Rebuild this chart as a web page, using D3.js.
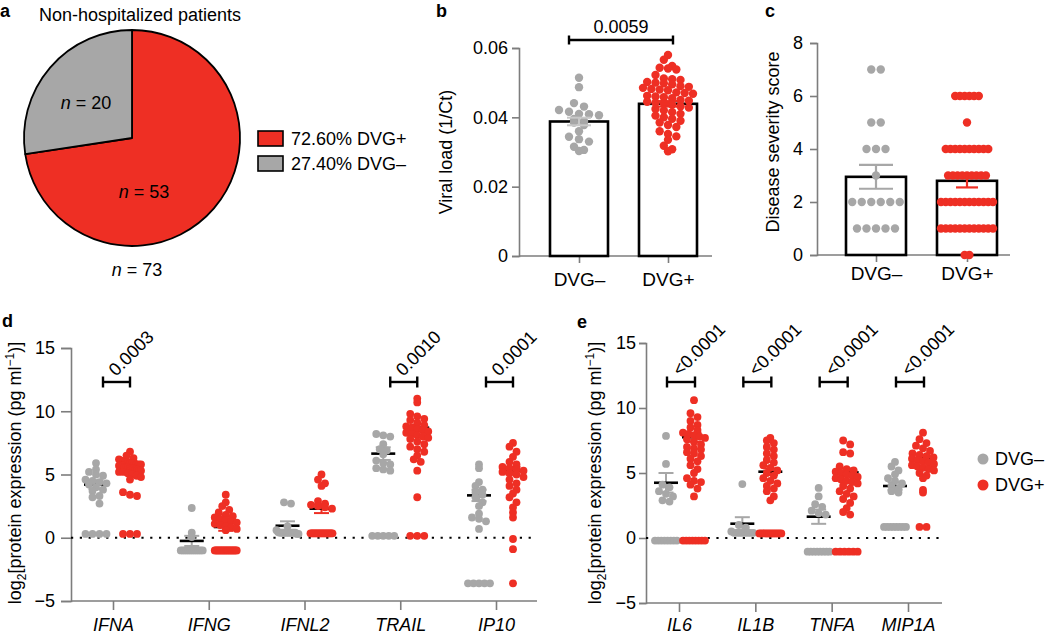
<!DOCTYPE html>
<html>
<head>
<meta charset="utf-8">
<script src="https://cdn.jsdelivr.net/npm/d3@7"></script>
<style>
  body { margin: 0; background: #fff; }
  svg text { font-family: "Liberation Sans", Arial, Helvetica, sans-serif; }
</style>
</head>
<body>
<svg id="fig" width="1050" height="634"></svg>
<script>
// ---- data ----
const groups = ["DVG–", "DVG+"];

const pieCounts = [53, 20];
const pieLegend = ["72.60% DVG+", "27.40% DVG–"];

const viralNeg = [0.0514, 0.0487, 0.0441, 0.0431, 0.0421, 0.0416, 0.0410, 0.0409, 0.0406, 0.0395,
  0.0389, 0.0385, 0.0378, 0.0360, 0.0344, 0.0337, 0.0330, 0.0315, 0.0306, 0.0303];
const viralPos = [0.0580, 0.0566, 0.0548, 0.0543, 0.0541, 0.0538, 0.0522, 0.0512, 0.0510, 0.0508,
  0.0502, 0.0500, 0.0498, 0.0495, 0.0490, 0.0488, 0.0485, 0.0482, 0.0480, 0.0478,
  0.0472, 0.0470, 0.0468, 0.0462, 0.0460, 0.0458, 0.0455, 0.0450, 0.0448, 0.0445,
  0.0442, 0.0440, 0.0436, 0.0432, 0.0428, 0.0424, 0.0420, 0.0415, 0.0410, 0.0405,
  0.0400, 0.0396, 0.0390, 0.0385, 0.0378, 0.0372, 0.0360, 0.0352, 0.0345, 0.0335,
  0.0318, 0.0308, 0.0302];
const viralMean = [0.0388, 0.0439];
const viralSem = [0.0011, 0.0008];
const viralTicks = [0, 0.02, 0.04, 0.06];
const viralP = "0.0059";

const severityNeg = [7, 7, 5, 5, 4, 4, 4, 3, 2, 2, 2, 2, 2, 2, 1, 1, 1, 1, 1];
const severityPos = [6, 6, 6, 6, 6, 6, 5, 4, 4, 4, 4, 4, 4, 4, 4, 4, 4, 3, 3, 3, 3, 3, 3, 3, 3, 3,
  2, 2, 2, 2, 2, 2, 2, 2, 2, 2, 2, 2, 1, 1, 1, 1, 1, 1, 1, 1, 1, 1, 1, 1, 0, 0];
const severityMean = [2.95, 2.8];
const severitySem = [0.45, 0.25];
const severityTicks = [0, 2, 4, 6, 8];

const cytoD = ["IFNA", "IFNG", "IFNL2", "TRAIL", "IP10"];
const dNeg = [
  [5.9, 5.4, 5.2, 5.0, 4.9, 4.6, 4.5, 4.4, 4.3, 4.2, 4.0, 3.8, 3.7, 3.3, 3.2, 2.7, 0.3, 0.3, 0.3, 0.3],
  [2.35, 0.4, 0.05, -0.9, -1, -1, -1, -1, -1, -1, -1, -1, -1, -1, -1, -1],
  [2.8, 2.7, 0.9, 0.6, 0.45, 0.4, 0.4, 0.4, 0.4, 0.4, 0.4, 0.4, 0.4, 0.4, 0.4, 0.4, 0.3, 0.3],
  [8.2, 8.1, 8.0, 7.4, 7.0, 6.9, 6.6, 6.1, 5.9, 5.8, 5.5, 5.4, 5.3, 0.15, 0.15, 0.15, 0.15, 0.15],
  [5.8, 5.5, 4.4, 4.1, 3.8, 3.6, 3.4, 3.2, 2.8, 2.5, 1.9, 1.6, 1.5, 1.3, 0.7, -3.6, -3.6, -3.6, -3.6, -3.6]
];
const dPos = [
  [6.8, 6.5, 6.3, 6.2, 6.1, 6.0, 6.0, 6.0, 5.9, 5.9, 5.9, 5.8, 5.8, 5.8, 5.7, 5.7, 5.7, 5.6, 5.6, 5.6,
   5.5, 5.5, 5.5, 5.4, 5.4, 5.3, 5.3, 5.2, 5.2, 5.1, 5.0, 4.9, 4.8, 4.6, 3.6, 3.4, 3.3, 0.3, 0.3, 0.3],
  [3.4, 2.8, 2.5, 2.2, 2.0, 1.8, 1.7, 1.6, 1.5, 1.4, 1.3, 1.2, 1.1, 1.0, 0.9, 0.8, 0.7, 0.6,
   -1, -1, -1, -1, -1, -1, -1, -1, -1, -1, -1, -1, -1, -1, -1, -1, -1, -1, -1, -1],
  [5.0, 4.6, 4.3, 4.1, 2.9, 2.7, 2.6, 2.5, 2.4, 2.3,
   0.35, 0.35, 0.35, 0.35, 0.35, 0.35, 0.35, 0.35, 0.35, 0.35, 0.35, 0.35, 0.35, 0.35, 0.35, 0.35, 0.35, 0.35, 0.35, 0.35],
  [11.0, 10.7, 9.8, 9.6, 9.4, 9.3, 9.1, 8.9, 8.8, 8.7, 8.6, 8.5, 8.4, 8.3, 8.2, 8.1, 8.0, 7.9, 7.8, 7.6,
   7.4, 7.2, 7.0, 6.8, 6.5, 6.2, 6.0, 5.3, 3.2, 0.15, 0.15, 0.15],
  [7.5, 7.2, 6.8, 6.4, 6.0, 5.8, 5.6, 5.5, 5.4, 5.3, 5.2, 5.1, 5.0, 4.8, 4.6, 4.3, 4.1, 3.8, 3.5, 3.2,
   2.8, 2.4, 2.0, 1.6, -0.1, -0.9, -3.6]
];
const dNegMean = [4.2, -0.25, 0.95, 6.65, 3.35];
const dNegSem = [0.35, 0.4, 0.35, 0.5, 0.45];
const dPosMean = [5.5, 0.85, 2.3, 8.7, 5.3];
const dPosSem = [0.2, 0.3, 0.35, 0.25, 0.3];
const dP = ["0.0003", null, null, "0.0010", "0.0001"];

const cytoE = ["IL6", "IL1B", "TNFA", "MIP1A"];
const eNeg = [
  [7.85, 5.7, 4.1, 3.9, 3.6, 3.4, 3.2, 2.9, 2.8, -0.2, -0.2, -0.2, -0.2, -0.2, -0.2, -0.2, -0.2],
  [4.15, 1.0, 0.8, 0.5, 0.4, 0.4, 0.4, 0.4, 0.4, 0.4, 0.4, 0.4],
  [3.85, 3.2, 2.6, 2.4, 2.1, 1.9, 1.8, -1.05, -1.05, -1.05, -1.05, -1.05, -1.05, -1.05, -1.05],
  [5.85, 5.5, 5.2, 4.9, 4.6, 4.4, 4.2, 4.0, 3.8, 3.6, 3.5, 0.85, 0.85, 0.85, 0.85, 0.85, 0.85, 0.85, 0.85]
];
const ePos = [
  [10.6, 9.6, 9.3, 9.0, 8.7, 8.5, 8.3, 8.1, 8.0, 7.9, 7.8, 7.7, 7.6, 7.4, 7.2, 7.0, 6.9, 6.8, 6.6, 6.5,
   6.3, 6.1, 5.9, 5.6, 5.3, 5.0, 4.6, 4.4, 4.3, 4.1, 3.8, 3.2, -0.2, -0.2, -0.2, -0.2, -0.2, -0.2, -0.2, -0.2],
  [7.7, 7.5, 7.3, 7.0, 6.8, 6.5, 6.3, 6.0, 5.8, 5.6, 5.4, 5.2, 5.0, 4.8, 4.6, 4.4, 4.2, 4.0, 3.8, 3.6,
   3.2, 2.9, 0.35, 0.35, 0.35, 0.35, 0.35, 0.35, 0.35, 0.35, 0.35, 0.35, 0.35, 0.35],
  [7.5, 7.2, 6.6, 6.5, 5.5, 5.3, 5.2, 5.1, 5.0, 4.9, 4.8, 4.7, 4.6, 4.5, 4.4, 4.3, 4.2, 4.0, 3.8, 3.6,
   3.4, 3.2, 3.0, 2.7, 2.3, 2.0, 1.8, -1.05, -1.05, -1.05, -1.05, -1.05, -1.05],
  [8.1, 7.6, 7.3, 7.1, 6.9, 6.7, 6.5, 6.4, 6.3, 6.2, 6.1, 6.0, 5.9, 5.8, 5.7, 5.6, 5.5, 5.4, 5.3, 5.2,
   5.0, 4.8, 4.6, 3.7, 3.5, 0.85, 0.85]
];
const eNegMean = [4.25, 1.1, 1.64, 4.0];
const eNegSem = [0.75, 0.5, 0.55, 0.3];
const ePosMean = [7.75, 5.1, 5.05, 6.1];
const ePosSem = [0.35, 0.25, 0.3, 0.2];
const eP = ["<0.0001", "<0.0001", "<0.0001", "<0.0001"];

const logTicks = [-5, 0, 5, 10, 15];

// ---- drawing ----
const RED = "#ee2f24", GREY = "#a7a7a7", AXIS = "#7d7d7d";
const FS = 18;
const svg = d3.select("#fig");

function letter(t, x, y) {
  svg.append("text").attr("x", x).attr("y", y)
    .attr("font-weight", "bold").attr("font-size", 18).text(t);
}

function styleAxis(g) {
  g.attr("font-family", null).attr("font-size", FS);
  g.select(".domain").attr("stroke", AXIS).attr("stroke-width", 1.6);
  g.selectAll(".tick line").attr("stroke", AXIS).attr("stroke-width", 1.6);
  g.selectAll(".tick text").attr("fill", "#000");
}

// lay dots out in rows like a scatter dot plot
function dotRows(values, y, o) {
  const pts = values.map(v => ({ v, py: y(v), dx: 0 }));
  const rows = d3.groups(pts, p => Math.round(p.py / o.binH));
  const maxK = d3.max(rows, r => r[1].length);
  const uni = Math.min(o.gap, o.maxW / Math.max(1, maxK - 1));
  rows.forEach(([, r]) => {
    const sp = o.uniform ? uni : Math.min(o.gap, o.maxW / Math.max(1, r.length - 1));
    r.forEach((p, i) => { p.dx = (i - (r.length - 1) / 2) * sp; });
  });
  return pts;
}

function drawDots(pts, cx, color, r) {
  svg.append("g").selectAll("circle").data(pts).join("circle")
    .attr("cx", d => cx + d.dx).attr("cy", d => d.py)
    .attr("r", r).attr("fill", color);
}

function errBar(cx, y, mean, sem, color, cap, w) {
  const g = svg.append("g").attr("stroke", color).attr("stroke-width", w || 2);
  g.append("line").attr("x1", cx).attr("x2", cx).attr("y1", y(mean - sem)).attr("y2", y(mean + sem));
  [mean - sem, mean + sem].forEach(v => {
    g.append("line").attr("x1", cx - cap / 2).attr("x2", cx + cap / 2).attr("y1", y(v)).attr("y2", y(v));
  });
}

function bracket(x1, x2, yy, h) {
  const g = svg.append("g").attr("stroke", "#000").attr("stroke-width", 2.4);
  g.append("line").attr("x1", x1).attr("x2", x2).attr("y1", yy).attr("y2", yy);
  g.append("line").attr("x1", x1).attr("x2", x1).attr("y1", yy - h / 2).attr("y2", yy + h / 2);
  g.append("line").attr("x1", x2).attr("x2", x2).attr("y1", yy - h / 2).attr("y2", yy + h / 2);
}

// ---- a: pie ----
letter("a", 0, 17);
svg.append("text").attr("x", 140).attr("y", 21).attr("text-anchor", "middle")
  .attr("font-size", 18).text("Non-hospitalized patients");

const pie = d3.pie().sort(null).value(d => d);
const arc = d3.arc().innerRadius(0).outerRadius(108);
const gPie = svg.append("g").attr("transform", "translate(132,138)");
gPie.selectAll("path").data(pie(pieCounts)).join("path")
  .attr("d", arc).attr("fill", (d, i) => i === 0 ? RED : GREY)
  .attr("stroke", "#000").attr("stroke-width", 1.8).attr("stroke-linejoin", "round");

function nLabel(n, x, y) {
  const t = svg.append("text").attr("x", x).attr("y", y).attr("text-anchor", "middle").attr("font-size", 18);
  t.append("tspan").attr("font-style", "italic").text("n");
  t.append("tspan").text(" = " + n);
}
nLabel(pieCounts[1], 86, 109);
nLabel(pieCounts[0], 144, 198);
nLabel(d3.sum(pieCounts), 137, 276);

pieLegend.forEach((t, i) => {
  svg.append("rect").attr("x", 258).attr("y", 131 + i * 25).attr("width", 25).attr("height", 15)
    .attr("fill", i === 0 ? RED : GREY).attr("stroke", "#000").attr("stroke-width", 1.6);
  svg.append("text").attr("x", 291).attr("y", 145 + i * 25).attr("font-size", 18).text(t);
});

// ---- b: viral load ----
letter("b", 436, 17);
const yB = d3.scaleLinear().domain([0, 0.06]).range([256, 48]);
const xB = d3.scalePoint().domain(groups).range([579, 668]);
svg.append("g").attr("transform", "translate(519,0)")
  .call(d3.axisLeft(yB).tickValues(viralTicks).tickFormat(d => d === 0 ? "0" : d3.format(".2f")(d))
    .tickSize(7).tickPadding(4))
  .call(styleAxis);
const gxB = svg.append("g").attr("transform", "translate(0,256)")
  .call(d3.axisBottom(xB).tickSize(7).tickPadding(10)).call(styleAxis);
gxB.select(".domain").remove();
gxB.selectAll(".tick text").attr("font-size", 19);
svg.append("line").attr("x1", 519).attr("x2", 712).attr("y1", 256).attr("y2", 256)
  .attr("stroke", AXIS).attr("stroke-width", 1.6);
svg.append("text").attr("transform", "translate(452,152) rotate(-90)").attr("text-anchor", "middle")
  .attr("font-size", FS).text("Viral load (1/Ct)");

[viralNeg, viralPos].forEach((vals, i) => {
  const cx = xB(groups[i]);
  svg.append("rect").attr("x", cx - 29).attr("width", 58).attr("y", yB(viralMean[i]))
    .attr("height", 256 - yB(viralMean[i])).attr("fill", "#fff").attr("stroke", "#000").attr("stroke-width", 2.6);
  drawDots(dotRows(vals, yB, { binH: 7, gap: 10, maxW: 50, uniform: true }), cx, i ? RED : GREY, 4.2);
  errBar(cx, yB, viralMean[i], viralSem[i], i ? RED : "#c8c8c8", 24, 2);
});
bracket(569, 673, 40, 9);
svg.append("text").attr("x", 621).attr("y", 33).attr("text-anchor", "middle").attr("font-size", FS).text(viralP);

// ---- c: severity ----
letter("c", 765, 17);
const yC = d3.scaleLinear().domain([0, 8]).range([255, 43]);
const xC = d3.scalePoint().domain(groups).range([876, 967]);
svg.append("g").attr("transform", "translate(817,0)")
  .call(d3.axisLeft(yC).tickValues(severityTicks).tickSize(7).tickPadding(7))
  .call(styleAxis);
const gxC = svg.append("g").attr("transform", "translate(0,255)")
  .call(d3.axisBottom(xC).tickSize(7).tickPadding(5)).call(styleAxis);
gxC.select(".domain").remove();
gxC.selectAll(".tick text").attr("font-size", 19);
svg.append("line").attr("x1", 817).attr("x2", 1010).attr("y1", 255).attr("y2", 255)
  .attr("stroke", AXIS).attr("stroke-width", 1.6);
svg.append("text").attr("transform", "translate(779,142) rotate(-90)").attr("text-anchor", "middle")
  .attr("font-size", FS).text("Disease severity score");

[severityNeg, severityPos].forEach((vals, i) => {
  const cx = xC(groups[i]);
  svg.append("rect").attr("x", cx - 30).attr("width", 60).attr("y", yC(severityMean[i]))
    .attr("height", 255 - yC(severityMean[i])).attr("fill", "#fff").attr("stroke", "#000").attr("stroke-width", 2.6);
  drawDots(dotRows(vals, yC, { binH: 7, gap: 9.5, maxW: 52, uniform: true }), cx, i ? RED : GREY, 4.2);
  errBar(cx, yC, severityMean[i], severitySem[i], i ? RED : GREY, i ? 22 : 34, 2.2);
});

// ---- d / e: cytokines ----
function logLabel(x, y) {
  const t = svg.append("text").attr("transform", `translate(${x},${y}) rotate(-90)`)
    .attr("text-anchor", "middle").attr("font-size", FS);
  t.append("tspan").text("log");
  t.append("tspan").attr("font-size", 12).attr("dy", 5).text("2");
  t.append("tspan").attr("dy", -5).text("[protein expression (pg ml");
  t.append("tspan").attr("font-size", 12).attr("dy", -7).text("−1");
  t.append("tspan").attr("dy", 7).text(")]");
}

function cytoPanel(o) {
  const y = d3.scaleLinear().domain([-5, 15]).range(o.yRange);
  const x = d3.scalePoint().domain(o.cats).range(o.xRange);
  svg.append("g").attr("transform", `translate(${o.x0},0)`)
    .call(d3.axisLeft(y).tickValues(logTicks).tickSize(o.tick).tickPadding(o.pad))
    .call(styleAxis);
  const gx = svg.append("g").attr("transform", `translate(0,${o.yRange[0]})`)
    .call(d3.axisBottom(x).tickSize(9).tickPadding(o.xpad)).call(styleAxis);
  gx.select(".domain").remove();
  gx.selectAll(".tick text").attr("font-style", "italic").attr("font-size", 18);
  svg.append("line").attr("x1", o.x0).attr("x2", o.x1).attr("y1", o.yRange[0]).attr("y2", o.yRange[0])
    .attr("stroke", AXIS).attr("stroke-width", 1.6);
  svg.append("line").attr("x1", o.x0).attr("x2", o.x1).attr("y1", y(0)).attr("y2", y(0))
    .attr("stroke", "#000").attr("stroke-width", 2.2).attr("stroke-dasharray", "2.2,6.6");
  logLabel(o.labelX, 473);

  o.cats.forEach((c, i) => {
    const cn = x(c) + o.off[0], cp = x(c) + o.off[1];
    errBar(cn, y, o.negMean[i], o.negSem[i], GREY, 15, 2);
    errBar(cp, y, o.posMean[i], o.posSem[i], RED, 15, 2);
    [[cn, o.negMean[i]], [cp, o.posMean[i]]].forEach(([cx, m]) => {
      svg.append("line").attr("x1", cx - 12).attr("x2", cx + 12).attr("y1", y(m)).attr("y2", y(m))
        .attr("stroke", "#000").attr("stroke-width", 2.6);
    });
    const opt = { binH: 6.5, gap: 7, maxW: 22, uniform: false };
    drawDots(dotRows(o.neg[i], y, opt), cn, GREY, 3.9);
    drawDots(dotRows(o.pos[i], y, opt), cp, RED, 3.9);
    if (o.p[i]) {
      bracket(x(c) + o.br[0], x(c) + o.br[1], 382, 11);
      svg.append("text").attr("transform", `translate(${x(c) + o.br[0] + 13},377) rotate(-45)`)
        .attr("font-size", FS).text(o.p[i]);
    }
  });
}

letter("d", 2, 327);
cytoPanel({
  cats: cytoD, neg: dNeg, pos: dPos, negMean: dNegMean, negSem: dNegSem, posMean: dPosMean, posSem: dPosSem,
  p: dP, yRange: [601, 348], xRange: [113, 496], x0: 71, x1: 537, tick: 10, pad: 6, xpad: 8,
  off: [-17, 17], br: [-10, 17], labelX: 21
});

letter("e", 577, 328);
cytoPanel({
  cats: cytoE, neg: eNeg, pos: ePos, negMean: eNegMean, negSem: eNegSem, posMean: ePosMean, posSem: ePosSem,
  p: eP, yRange: [603, 343], xRange: [679, 908], x0: 646, x1: 942, tick: 7, pad: 3, xpad: 6,
  off: [-13, 15], br: [-12, 16], labelX: 601
});

// legend for e
groups.forEach((g, i) => {
  svg.append("circle").attr("cx", 983).attr("cy", 459 + i * 26).attr("r", 5.5).attr("fill", i ? RED : GREY);
  svg.append("text").attr("x", 995).attr("y", 465 + i * 26).attr("font-size", 18).text(g);
});
</script>
</body>
</html>
